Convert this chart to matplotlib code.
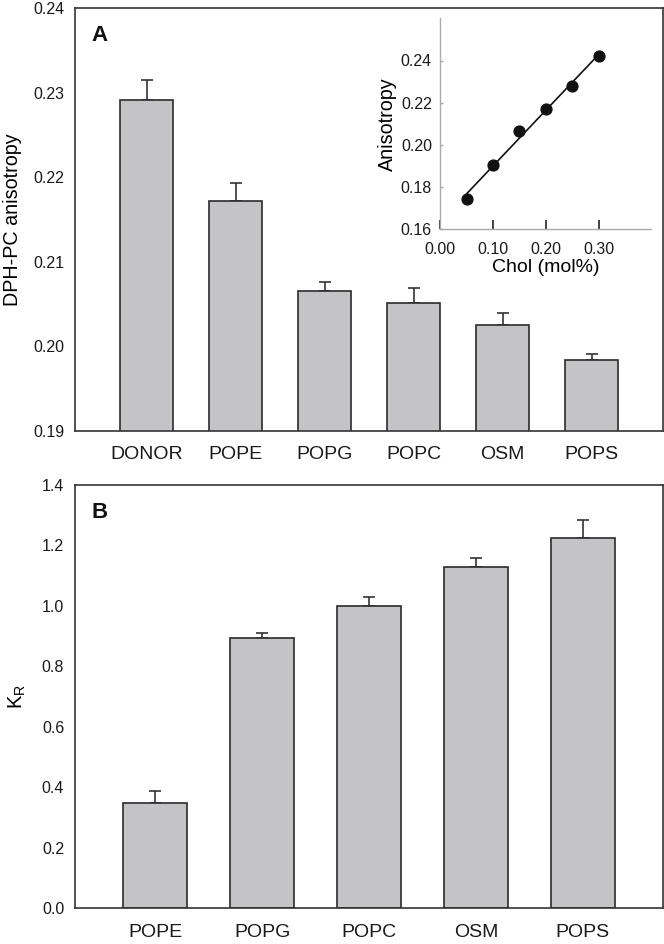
import numpy as np
import matplotlib
matplotlib.use("Agg")
import matplotlib.pyplot as plt

plt.rcParams['font.family'] = ['Liberation Sans', 'DejaVu Sans']
plt.rcParams['mathtext.fontset'] = 'custom'
plt.rcParams['mathtext.rm'] = 'Liberation Sans'
plt.rcParams['mathtext.it'] = 'Liberation Sans'

# Panel A data
a_labels = ["DONOR", "POPE", "POPG", "POPC", "OSM", "POPS"]
a_values = [0.2291, 0.2172, 0.2066, 0.2051, 0.2025, 0.1984]
a_errors = [0.0024, 0.0021, 0.0010, 0.0018, 0.0015, 0.0007]
a_yticks = [0.19, 0.20, 0.21, 0.22, 0.23, 0.24]

# Inset data
chol = [0.05, 0.10, 0.15, 0.20, 0.25, 0.30]
aniso = [0.1745, 0.1906, 0.2066, 0.2169, 0.2280, 0.2423]

# Panel B data
b_labels = ["POPE", "POPG", "POPC", "OSM", "POPS"]
b_values = [0.347, 0.893, 1.000, 1.129, 1.226]
b_errors = [0.042, 0.019, 0.028, 0.031, 0.057]
b_yticks = [0.0, 0.2, 0.4, 0.6, 0.8, 1.0, 1.2, 1.4]

W, H = 664, 944
fig = plt.figure(figsize=(W / 100, H / 100), dpi=100)

def px_axes(l, t, r, b):
    return fig.add_axes([l / W, 1 - b / H, (r - l) / W, (b - t) / H])

bar_face = "#c4c4c6"
dark = "#2b2b2b"

def style_main(ax):
    for s in ax.spines.values():
        s.set_color("#333333")
        s.set_linewidth(1.2)
    ax.tick_params(axis='both', length=0)
    ax.tick_params(axis='y', labelsize=11.5, pad=8, colors="#1a1a1a")
    ax.tick_params(axis='x', labelsize=14, pad=11, colors="#1a1a1a")

# ---- Panel A
axA = px_axes(75.3, 8.3, 663, 431)
xa = np.arange(len(a_labels))
axA.bar(xa, a_values, width=0.6, color=bar_face, edgecolor=dark, linewidth=1.2, zorder=2)
axA.errorbar(xa, a_values, yerr=[np.zeros(len(a_errors)), a_errors], fmt='none',
             ecolor="#333333", elinewidth=1.2, capsize=4.3, capthick=1.2, zorder=1)
axA.set_xlim(-0.8, 5.8)
axA.set_ylim(0.19, 0.24)
axA.set_yticks(a_yticks)
axA.set_yticklabels([f"{v:.2f}" for v in a_yticks])
axA.set_xticks(xa)
axA.set_xticklabels(a_labels)
axA.set_ylabel("DPH-PC anisotropy", fontsize=14.2, labelpad=8)
style_main(axA)
axA.text(0.028, 0.935, "A", transform=axA.transAxes, fontsize=16, fontweight='bold',
         ha='left', va='center', color="#111111")

# ---- Inset
axI = px_axes(440.3, 18.3, 651.3, 229.3)
coef = np.polyfit(chol, aniso, 1)
xfit = np.array([chol[0], chol[-1]])
axI.plot(xfit, np.polyval(coef, xfit), color="#111111", linewidth=1.2, zorder=2)
axI.plot(chol, aniso, 'o', color="#111111", markersize=7.8, zorder=3)
axI.set_xlim(0, 0.40)
axI.set_ylim(0.16, 0.26)
axI.set_xticks([0.0, 0.1, 0.2, 0.3])
axI.set_xticklabels(["0.00", "0.10", "0.20", "0.30"])
axI.set_yticks([0.16, 0.18, 0.20, 0.22, 0.24])
axI.set_yticklabels(["0.16", "0.18", "0.20", "0.22", "0.24"])
axI.patch.set_alpha(0)
for s in ["top", "right"]:
    axI.spines[s].set_visible(False)
for s in ["left", "bottom"]:
    axI.spines[s].set_color("#aaaaaa")
    axI.spines[s].set_linewidth(1.0)
axI.tick_params(axis='x', direction='in', length=6.5, width=1.2, color="#222222",
                labelsize=11.5, pad=9.5, labelcolor="#1a1a1a")
axI.tick_params(axis='y', direction='in', length=2.5, width=1.0, color="#aaaaaa",
                labelsize=11.5, pad=6, labelcolor="#1a1a1a")
axI.set_xlabel("Chol (mol%)", fontsize=14, labelpad=1)
axI.set_ylabel("Anisotropy", fontsize=14.2, labelpad=3)

# ---- Panel B
axB = px_axes(75.3, 485, 663, 908.3)
xb = np.arange(len(b_labels))
axB.bar(xb, b_values, width=0.6, color=bar_face, edgecolor=dark, linewidth=1.2, zorder=2)
axB.errorbar(xb, b_values, yerr=[np.zeros(len(b_errors)), b_errors], fmt='none',
             ecolor="#333333", elinewidth=1.2, capsize=4.4, capthick=1.2, zorder=1)
axB.set_xlim(-0.75, 4.75)
axB.set_ylim(0.0, 1.4)
axB.set_yticks(b_yticks)
axB.set_yticklabels([f"{v:.1f}" for v in b_yticks])
axB.set_xticks(xb)
axB.set_xticklabels(b_labels)
axB.set_ylabel(r"K$_{\mathrm{R}}$", fontsize=14.5, labelpad=10)
style_main(axB)
axB.text(0.028, 0.935, "B", transform=axB.transAxes, fontsize=16, fontweight='bold',
         ha='left', va='center', color="#111111")

fig.savefig("out.png", dpi=100)
